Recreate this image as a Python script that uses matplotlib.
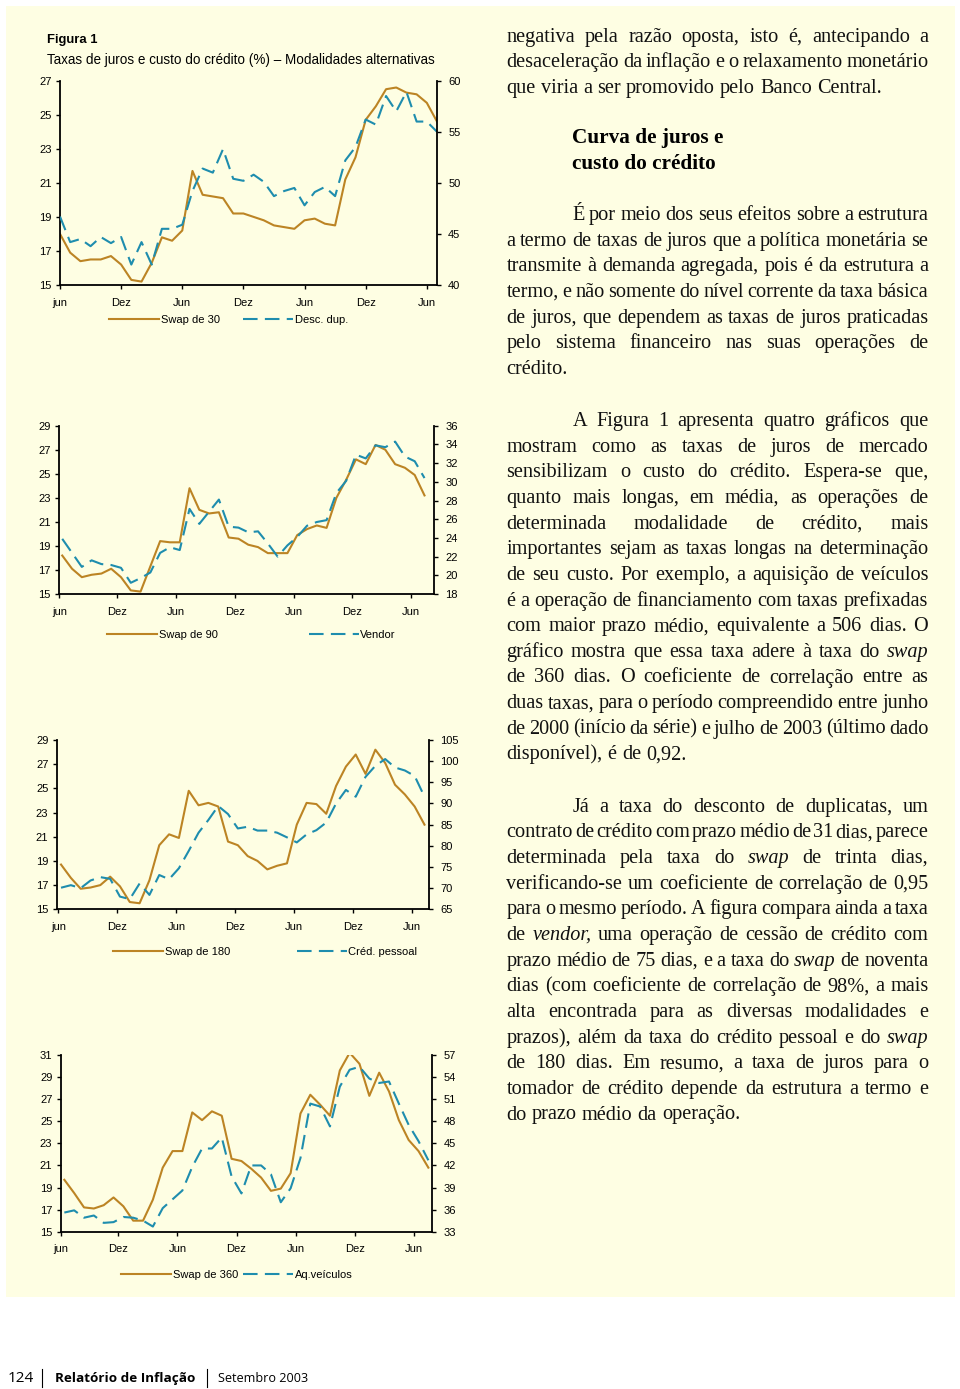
import numpy as np
import matplotlib
matplotlib.use('Agg')
import matplotlib.pyplot as plt
from matplotlib.font_manager import FontProperties
from matplotlib.lines import Line2D
from matplotlib.patches import Rectangle
from matplotlib.transforms import Affine2D

plt.rcParams['font.family'] = ['Liberation Sans', 'DejaVu Sans']

# dados mensais, jun/2000 a jul/2003
meses = ['jun', 'Dez', 'Jun', 'Dez', 'Jun', 'Dez', 'Jun']

swap30 = [18.0, 16.9, 16.4, 16.5, 16.5, 16.7, 16.2, 15.3, 15.2, 16.3, 17.8, 17.6, 18.2,
          21.7, 20.3, 20.2, 20.1, 19.2, 19.2, 19.0, 18.8, 18.5, 18.4, 18.3, 18.8, 18.9,
          18.6, 18.5, 21.2, 22.5, 24.7, 25.5, 26.5, 26.6, 26.3, 26.2, 25.7, 24.6]
descdup = [46.7, 44.2, 44.5, 43.8, 44.7, 44.1, 44.7, 42.0, 44.2, 42.0, 45.5, 45.5, 45.9,
           49.2, 51.4, 51.0, 53.3, 50.4, 50.2, 50.8, 50.1, 48.7, 49.2, 49.5, 47.8, 49.1,
           49.6, 48.7, 52.2, 53.5, 56.2, 55.7, 58.5, 57.0, 58.9, 56.0, 56.0, 55.0]

swap90 = [18.2, 17.1, 16.4, 16.6, 16.7, 17.1, 16.4, 15.3, 15.2, 17.3, 19.4, 19.3, 19.3,
          23.8, 22.0, 21.7, 21.8, 19.7, 19.6, 19.1, 18.9, 18.4, 18.4, 18.4, 19.9, 20.4,
          20.7, 20.5, 23.0, 24.5, 26.2, 25.8, 27.4, 27.0, 25.8, 25.5, 24.9, 23.2]
vendor = [23.9, 22.4, 20.9, 21.6, 21.2, 21.1, 20.8, 19.2, 19.7, 20.3, 22.4, 23.0, 22.7,
          27.1, 25.5, 26.8, 28.1, 25.2, 25.1, 24.6, 24.7, 23.4, 22.0, 23.2, 24.1, 25.3,
          25.7, 25.9, 28.8, 30.1, 32.9, 32.5, 33.9, 33.7, 34.3, 32.7, 32.2, 30.4]

swap180 = [18.7, 17.6, 16.7, 16.8, 17.0, 17.7, 16.9, 15.6, 15.5, 17.4, 20.3, 21.2, 20.9,
           24.8, 23.6, 23.8, 23.5, 20.6, 20.3, 19.4, 19.0, 18.3, 18.6, 18.8, 22.0, 23.8,
           23.7, 22.9, 25.2, 26.8, 27.8, 26.2, 28.2, 27.1, 25.3, 24.5, 23.5, 22.0]
credpessoal = [70.1, 70.7, 70.0, 71.8, 72.6, 72.2, 68.0, 67.4, 71.1, 68.4, 73.1, 72.1, 74.7,
               78.8, 83.1, 86.1, 89.4, 87.5, 84.1, 84.5, 83.6, 83.6, 83.1, 82.0, 80.8, 82.7,
               83.7, 85.5, 90.0, 93.2, 91.6, 96.3, 98.9, 100.5, 98.5, 97.8, 96.5, 91.6]

swap360 = [19.7, 18.5, 17.2, 17.1, 17.4, 18.1, 17.3, 16.0, 16.0, 17.9, 20.8, 22.3, 22.3,
           25.8, 25.1, 25.9, 25.5, 21.6, 21.4, 20.7, 19.9, 18.7, 18.9, 20.3, 25.7, 27.4,
           26.5, 25.5, 29.6, 31.2, 30.2, 27.3, 29.4, 27.7, 25.1, 23.3, 22.3, 20.8]
veiculos = [35.6, 35.9, 34.9, 35.2, 34.2, 34.3, 35.0, 34.9, 34.5, 33.7, 36.2, 37.4, 38.6,
            41.8, 44.3, 44.3, 45.8, 40.5, 38.2, 42.0, 42.0, 40.8, 37.0, 38.9, 43.0, 50.4,
            50.0, 47.3, 52.7, 55.0, 55.4, 53.8, 53.2, 53.4, 50.4, 47.5, 45.3, 42.7]

ORANGE = '#BC8424'
BLUE = '#1E8DAE'
CREAM = '#FEFEE3'

W, H = 960, 1389
fig = plt.figure(figsize=(9.6, 13.89), dpi=100)
fig.patch.set_facecolor('white')
# coordenadas em pixels, origem no topo
pxT = Affine2D().scale(1 / W, -1 / H).translate(0, 1) + fig.transFigure

fig.add_artist(Rectangle((6, 6), 949, 1291, transform=pxT, facecolor=CREAM,
                         edgecolor='none', zorder=-5))


def chart(box, y1, y2, n1, n2, yl1, yt1, yl2, yt2, xlim, off, leg, colsp):
    l, r, t, b = box
    ax = fig.add_axes([l / W, 1 - b / H, (r - l) / W, (b - t) / H])
    ax.patch.set_visible(False)
    ax2 = ax.twinx()
    x = np.arange(len(y1))
    h1, = ax.plot(x, y1, color=ORANGE, lw=1.5, label=n1)
    h2, = ax2.plot(x, y2, color=BLUE, lw=1.5, dashes=(7, 3.5), label=n2)
    ax.set_xlim(*xlim)
    ax.set_ylim(*yl1)
    ax.set_yticks(yt1)
    ax2.set_ylim(*yl2)
    ax2.set_yticks(yt2)
    ticks = [max(6 * k + off, xlim[0]) for k in range(7)]
    ax.set_xticks(ticks)
    ax.set_xticklabels(meses)
    for s in ['top', 'right']:
        ax.spines[s].set_visible(False)
    for s in ['top', 'left', 'bottom']:
        ax2.spines[s].set_visible(False)
    for a, s in [(ax, 'left'), (ax, 'bottom'), (ax2, 'right')]:
        a.spines[s].set_linewidth(1.3)
        a.spines[s].set_color('black')
    ax.tick_params(axis='y', direction='out', length=3, width=1, labelsize=8, pad=3)
    ax.tick_params(axis='x', direction='out', length=3, width=1, labelsize=8, pad=6)
    ax2.tick_params(axis='y', direction='out', length=3, width=1, labelsize=8, pad=5)
    fig.legend(handles=[h1, h2], loc='center left', bbox_to_anchor=leg,
               bbox_transform=pxT, ncol=2, frameon=False, fontsize=8,
               handlelength=4.5, handletextpad=0.15, columnspacing=colsp,
               borderpad=0, borderaxespad=0)
    return ax


chart((60, 437, 80.7, 285), swap30, descdup, 'Swap de 30', 'Desc. dup.',
      (15, 27), range(15, 28, 2), (40, 60), range(40, 61, 5), (0, 37.0), 0,
      (109, 320), 2.1)
chart((59.3, 434, 425.7, 594), swap90, vendor, 'Swap de 90', 'Vendor',
      (15, 29), range(15, 30, 2), (18, 36), range(18, 37, 2), (-0.3, 37.97), -0.37,
      (107, 635), 8.2)
chart((56.7, 429, 740, 909.3), swap180, credpessoal, 'Swap de 180', 'Créd. pessoal',
      (15, 29), range(15, 30, 2), (65, 105), range(65, 106, 5), (-0.44, 37.46), -0.26,
      (113, 952), 6.0)
chart((60.7, 432.3, 1055, 1231.7), swap360, veiculos, 'Swap de 360', 'Aq.veículos',
      (15, 31), range(15, 32, 2), (33, 57), range(33, 58, 3), (-0.37, 37.4), -0.5,
      (121, 1275), 0.45)

renderer = fig.canvas.get_renderer()


def tw(s, fp):
    return renderer.get_text_width_height_descent(s, fp, ismath=False)[0]


def fit(s, family, target, weight='normal', style='normal'):
    fp = FontProperties(family=family, size=10, weight=weight, style=style)
    return 10 * target / tw(s, fp)


# titulo da figura
sz = fit('Figura 1', 'Liberation Sans', 51, 'bold')
fig.text(47, 43.3, 'Figura 1', transform=pxT, fontsize=sz, fontweight='bold', va='baseline')
sub = 'Taxas de juros e custo do crédito (%) – Modalidades alternativas'
sz = fit(sub, 'Liberation Sans', 388)
fig.text(47, 64, sub, transform=pxT, fontsize=sz, va='baseline')

# texto da coluna direita
X0, X1, XI = 506.5, 928.3, 572.3
LS = 25.65
bs = fit('que viria a ser promovido pelo Banco Central.', 'Liberation Serif', 375)
fpN = FontProperties(family='Liberation Serif', size=bs)
fpI = FontProperties(family='Liberation Serif', size=bs, style='italic')
sp = tw('a a', fpN) - tw('aa', fpN)


def put_line(line, x0, x1, y, last):
    words = line.split()
    fps = [fpI if w.startswith('_') else fpN for w in words]
    words = [w.lstrip('_') for w in words]
    ws = [tw(w, f) for w, f in zip(words, fps)]
    if last or len(words) == 1:
        gap = sp
    else:
        gap = (x1 - x0 - sum(ws)) / (len(words) - 1)
    x = x0
    for w, f, wd in zip(words, fps, ws):
        fig.text(x, y, w, transform=pxT, fontproperties=f, va='baseline', color='#111111')
        x += wd + gap


def paragraph(lines, y0, indent=True):
    for i, line in enumerate(lines):
        x0 = XI if (i == 0 and indent) else X0
        put_line(line, x0, X1, y0 + i * LS, i == len(lines) - 1)


p1 = ['negativa pela razão oposta, isto é, antecipando a',
      'desaceleração da inflação e o relaxamento monetário',
      'que viria a ser promovido pelo Banco Central.']
p2 = ['É por meio dos seus efeitos sobre a estrutura',
      'a termo de taxas de juros que a política monetária se',
      'transmite à demanda agregada, pois é da estrutura a',
      'termo, e não somente do nível corrente da taxa básica',
      'de juros, que dependem as taxas de juros praticadas',
      'pelo sistema financeiro nas suas operações de',
      'crédito.']
p3 = ['A Figura 1 apresenta quatro gráficos que',
      'mostram como as taxas de juros de mercado',
      'sensibilizam o custo do crédito. Espera-se que,',
      'quanto mais longas, em média, as operações de',
      'determinada modalidade de crédito, mais',
      'importantes sejam as taxas longas na determinação',
      'de seu custo. Por exemplo, a aquisição de veículos',
      'é a operação de financiamento com taxas prefixadas',
      'com maior prazo médio, equivalente a 506 dias. O',
      'gráfico mostra que essa taxa adere à taxa do _swap',
      'de 360 dias. O coeficiente de correlação entre as',
      'duas taxas, para o período compreendido entre junho',
      'de 2000 (início da série) e julho de 2003 (último dado',
      'disponível), é de 0,92.']
p4 = ['Já a taxa do desconto de duplicatas, um',
      'contrato de crédito com prazo médio de 31 dias, parece',
      'determinada pela taxa do _swap de trinta dias,',
      'verificando-se um coeficiente de correlação de 0,95',
      'para o mesmo período. A figura compara ainda a taxa',
      'de _vendor, uma operação de cessão de crédito com',
      'prazo médio de 75 dias, e a taxa do _swap de noventa',
      'dias (com coeficiente de correlação de 98%, a mais',
      'alta encontrada para as diversas modalidades e',
      'prazos), além da taxa do crédito pessoal e do _swap',
      'de 180 dias. Em resumo, a taxa de juros para o',
      'tomador de crédito depende da estrutura a termo e',
      'do prazo médio da operação.']

paragraph(p1, 41.7, indent=False)
hs = fit('Curva de juros e', 'Liberation Serif', 152, 'bold')
for i, s in enumerate(['Curva de juros e', 'custo do crédito']):
    fig.text(XI, 143.3 + i * LS, s, transform=pxT, family='Liberation Serif',
             fontsize=hs, fontweight='bold', va='baseline')
paragraph(p2, 220)
paragraph(p3, 426)
paragraph(p4, 811.7)

# rodape
fs = fit('124', 'Open Sans', 26)
fig.text(8, 1382, '124', transform=pxT, family='Open Sans', fontsize=fs, va='baseline')
fs = fit('Relatório de Inflação', 'Open Sans', 140, 'bold')
fig.text(55, 1382, 'Relatório de Inflação', transform=pxT, family='Open Sans',
         fontsize=fs, fontweight='bold', va='baseline')
fs = fit('Setembro 2003', 'Open Sans', 90)
fig.text(218, 1382, 'Setembro 2003', transform=pxT, family='Open Sans', fontsize=fs,
         va='baseline')
for xb in [42, 206.5]:
    fig.add_artist(Line2D([xb, xb], [1369, 1387], transform=pxT, color='black', lw=0.8))

fig.savefig('out.png', dpi=100, facecolor='white')
